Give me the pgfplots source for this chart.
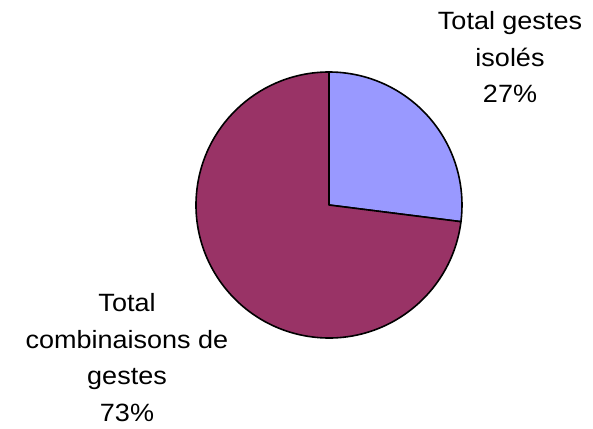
\documentclass[border=0pt]{standalone}
\usepackage{pgfplots}
\usepackage{pgfplotstable}
\pgfplotsset{compat=1.18}
\usetikzlibrary{calc}
\usepackage{fontspec}
\setmainfont[FakeStretch=1.08]{Liberation Sans}
\definecolor{pieblue}{HTML}{9999FF}
\definecolor{piemaroon}{HTML}{993366}
\pgfplotstableread{
part value
isoles 27
combinaisons 73
}\pietable
\tikzset{pielabel/.style={font=\fontsize{25}{36.5}\selectfont, align=center, anchor=base, inner sep=0pt}}
\begin{document}
\begin{tikzpicture}
\pgfplotstablegetelem{0}{value}\of\pietable
\pgfmathtruncatemacro{\va}{\pgfplotsretval}
\pgfplotstablegetelem{1}{value}\of\pietable
\pgfmathtruncatemacro{\vb}{\pgfplotsretval}
\pgfmathsetmacro{\aone}{90-3.6*\va}
\pgfmathsetmacro{\atwo}{\aone-3.6*\vb}
\useasboundingbox (0,0) rectangle (593pt,428pt);
\begin{axis}[
  at={(0,0)}, anchor=origin,
  hide axis, scale only axis,
  width=593pt, height=428pt,
  xmin=0, xmax=593, ymin=0, ymax=428,
  clip=false,
]
\fill[pieblue, draw=black, line width=1.6pt, line join=round]
  (axis cs:329,223) -- (axis cs:329,356) arc[start angle=90, end angle=\aone, radius=133pt] -- cycle;
\fill[piemaroon, draw=black, line width=1.6pt, line join=round]
  (axis cs:329,223) -- ($(axis cs:329,223)+(\aone:133pt)$) arc[start angle=\aone, end angle=\atwo, radius=133pt] -- cycle;
\node[pielabel] at (axis cs:510,325) {Total gestes\\isolés\\\va\%};
\node[pielabel] at (axis cs:127,7) {Total\\combinaisons de\\gestes\\\vb\%};
\end{axis}
\end{tikzpicture}
\end{document}
